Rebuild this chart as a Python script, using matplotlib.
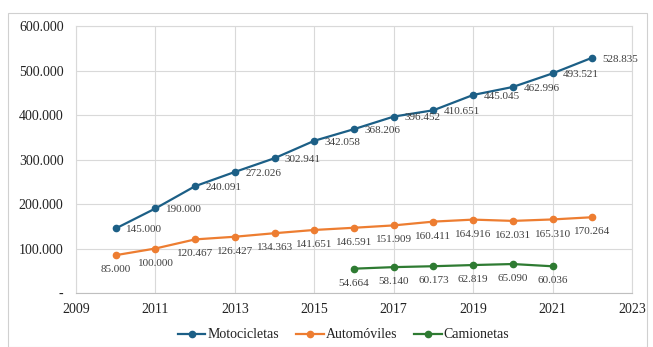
import matplotlib
matplotlib.use("Agg")
import matplotlib.pyplot as plt
from matplotlib.ticker import FuncFormatter, MultipleLocator
from matplotlib.patches import Rectangle

plt.rcParams['font.family'] = ['Liberation Serif', 'DejaVu Serif']

years_main = [2010, 2011, 2012, 2013, 2014, 2015, 2016, 2017, 2018, 2019, 2020, 2021, 2022]
motocicletas = [145000, 190000, 240091, 272026, 302941, 342058, 368206, 396452, 410651,
                445045, 462996, 493521, 528835]
automoviles = [85000, 100000, 120467, 126427, 134363, 141651, 146591, 151909, 160411,
               164916, 162031, 165310, 170264]
years_cam = [2016, 2017, 2018, 2019, 2020, 2021]
camionetas = [54664, 58140, 60173, 62819, 65090, 60036]
x_ticks = [2009, 2011, 2013, 2015, 2017, 2019, 2021, 2023]

c_moto = '#1c5f86'
c_auto = '#ed7d31'
c_cam = '#2e7b32'
txt = '#404040'

def fmt_num(v):
    if v == 0:
        return '-'
    return f"{int(v):,}".replace(',', '.')

fig = plt.figure(figsize=(6.53, 3.47), dpi=100)
fig.patches.append(Rectangle((8/653, 0.0), (647-8)/653, 1 - 13/347, transform=fig.transFigure,
                             fill=False, edgecolor='#d0d0d0', linewidth=0.8))
ax = fig.add_axes([76/653, 1 - 293/347, (632-76)/653, (293-26)/347])

ax.plot(years_main, motocicletas, color=c_moto, lw=1.6, marker='o', ms=4.5, label='Motocicletas', zorder=3)
ax.plot(years_main, automoviles, color=c_auto, lw=1.6, marker='o', ms=4.5, label='Automóviles', zorder=3)
ax.plot(years_cam, camionetas, color=c_cam, lw=1.6, marker='o', ms=4.5, label='Camionetas', zorder=3)

for x, y in zip(years_main, motocicletas):
    ax.annotate(fmt_num(y), (x, y), xytext=(7.5, -1), textcoords='offset points',
                ha='left', va='center', fontsize=8, color=txt)
for x, y in zip(years_main, automoviles):
    ax.annotate(fmt_num(y), (x, y), xytext=(0, -10.5), textcoords='offset points',
                ha='center', va='center', fontsize=8, color=txt)
for x, y in zip(years_cam, camionetas):
    ax.annotate(fmt_num(y), (x, y), xytext=(0, -10.5), textcoords='offset points',
                ha='center', va='center', fontsize=8, color=txt)

ax.set_xlim(2009, 2023)
ax.set_ylim(0, 600000)
ax.set_xticks(x_ticks)
ax.yaxis.set_major_locator(MultipleLocator(100000))
ax.yaxis.set_major_formatter(FuncFormatter(lambda v, p: fmt_num(v)))
ax.grid(True, color='#d9d9d9', lw=0.8)
ax.set_axisbelow(True)
for s in ax.spines.values():
    s.set_color('#d9d9d9')
    s.set_linewidth(0.8)
ax.spines['bottom'].set_color('#bfbfbf')
ax.tick_params(length=0, labelsize=10, colors='#222222', pad=9)
ax.tick_params(axis='x', pad=7)

leg = fig.legend(loc='center', bbox_to_anchor=(0.526, 1 - 335/347), ncol=3, frameon=False,
                 prop={'family': 'Liberation Serif', 'size': 10},
                 handlelength=2.0, columnspacing=1.2, handletextpad=0.15)
for t in leg.get_texts():
    t.set_color('#222222')

fig.savefig('out.png', dpi=100)
